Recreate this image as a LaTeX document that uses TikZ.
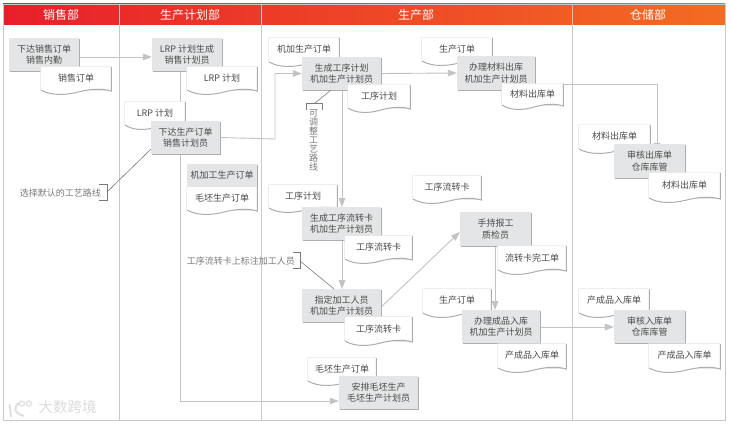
\documentclass[tikz,border=0pt]{standalone}
\usepackage{fontspec}
\setmainfont{Noto Sans CJK SC}
\usetikzlibrary{arrows.meta,shadows,backgrounds,positioning,calc}
\definecolor{txt}{HTML}{4A4A4A}
\definecolor{note}{HTML}{7A7A7A}
\definecolor{lane}{HTML}{C9C9C9}
\definecolor{flow}{HTML}{C2C2C2}
\definecolor{boxfill}{HTML}{E4E5E6}
\definecolor{wm}{HTML}{DCDCDC}
\definecolor{docedge}{HTML}{E6E6E6}
\definecolor{hA}{HTML}{E81F2B}
\definecolor{hB}{HTML}{F36C22}
\tikzset{
  taskbox/.style={rectangle,fill=boxfill,inner sep=0pt,align=center,text=txt,
    font=\fontsize{9}{11.3}\selectfont,
    drop shadow={shadow xshift=1.2pt,shadow yshift=-1.2pt,opacity=1,fill=black!32}},
  doclabel/.style={inner sep=0pt,text=txt,font=\fontsize{9}{11}\selectfont},
  headlabel/.style={inner sep=0pt,text=white,font=\fontsize{12}{14}\selectfont},
  flowline/.style={draw=flow,line width=.9pt,-{Triangle[length=9pt,width=6.5pt,fill=flow]}},
  plainflow/.style={draw=flow,line width=.9pt},
  noteline/.style={draw=note,line width=.6pt},
  notetext/.style={inner sep=0pt,text=note,font=\fontsize{9}{9}\selectfont},
}
% \taskb{name}{x1}{y1}{x2}{y2}{text}
\newcommand{\taskb}[6]{%
  \node[taskbox,minimum width={(#4-#2)*1pt},minimum height={(#5-#3)*1pt}] (#1) at ({(#2+#4)/2},{(#3+#5)/2}) {#6};}
% \docb{name}{x1}{y1}{x2}{y2}{text}
\newcommand{\docb}[6]{%
  \pgfmathsetmacro{\dw}{#4-#2}%
  \fill[docedge] (#2-.6,#3-.6) -- (#4,#3-.6) -- (#4,#5-4) -- (#2-.6,#5-5) -- cycle;
  \fill[white] (#2,#3) -- (#4,#3) -- (#4,#5-4)
     .. controls ({#4-.15*\dw},#5-7) and ({#4-.3*\dw},#5-6) .. ({#2+.5*\dw},#5-2.5)
     .. controls ({#2+.35*\dw},#5) and ({#2+.15*\dw},#5+1) .. (#2,#5-5) -- cycle;
  \draw[line width=1pt,black!32] (#4+.3,#3) -- (#4+.3,#5-4)
     .. controls ({#4-.15*\dw},#5-7) and ({#4-.3*\dw},#5-6) .. ({#2+.5*\dw},#5-2.5)
     .. controls ({#2+.35*\dw},#5) and ({#2+.15*\dw},#5+1) .. (#2,#5-5);
  \node[doclabel] (#1) at ({(#2+#4)/2},{#3+.4*(#5-#3)}) {#6};}
\begin{document}
\begin{tikzpicture}[x=1pt,y=-1pt]
\useasboundingbox (0,0) rectangle (731,425);
\begin{scope}[on background layer]
\fill[white] (0,0) rectangle (731,425);
\end{scope}
% header band
\shade[left color=hA,right color=hB] (3,4) rectangle (725,25);
% lanes
\draw[lane,line width=.9pt] (3,4) rectangle (725,420);
\draw[lane,line width=.9pt] (119.5,4) -- (119.5,420);
\draw[lane,line width=.9pt] (261,4) -- (261,420);
\draw[lane,line width=.9pt] (572,4) -- (572,420);
\node[headlabel] (h1) at (61,15) {销售部};
\node[headlabel] (h2) at (190,15) {生产计划部};
\node[headlabel] (h3) at (416,15) {生产部};
\node[headlabel] (h4) at (648,15) {仓储部};
% watermark
\node[inner sep=0pt,text=wm,font=\fontsize{14.5}{16}\selectfont] (wmark) at (67.5,406.5) {大数跨境};
\draw[wm,line width=1.8pt] (9.5,404) -- (11,417);
\draw[wm,line width=1.8pt] (19,403) .. controls (13,408) and (14,413) .. (24,416);
\draw[wm,line width=1pt] (22,403.5) circle (2.6);
\draw[wm,line width=1pt] (29,403.5) circle (2.6);
% documents lying behind the boxes
\docb{dJiagong}{269}{38}{339}{67}{机加生产订单}
\docb{dShengchanA}{422}{38}{492}{66}{生产订单}
\docb{dLrpB}{125}{102}{185}{130}{LRP 计划}
\docb{dLiaoA}{579}{125}{650}{154}{材料出库单}
\docb{dGongxuB}{269}{185}{337}{213}{工序计划}
\docb{dMaopiA}{308}{358}{376}{386}{毛坯生产订单}
\docb{dShengchanB}{423}{289}{491}{318}{生产订单}
\docb{dChengA}{579}{289}{649}{318}{产成品入库单}
% boxes
\taskb{xiaoshou}{9}{38}{79}{71}{下达销售订单\\销售内勤}
\taskb{lrp}{152}{38}{222}{71}{LRP 计划生成\\销售计划员}
\taskb{xiada}{151}{121}{220}{154}{下达生产订单\\销售计划员}
\taskb{jiagong}{187}{164}{257}{187}{机加工生产订单}
\taskb{gongxu}{302}{57}{381}{90}{生成工序计划\\机加生产计划员}
\taskb{banliao}{457}{56}{535}{90}{办理材料出库\\机加生产计划员}
\taskb{shenliao}{614}{144}{685}{178}{审核出库单\\仓库库管}
\taskb{liuzhuan}{302}{207}{381}{240}{生成工序流转卡\\机加生产计划员}
\taskb{zhiding}{302}{289}{381}{322}{指定加工人员\\机加生产计划员}
\taskb{baogong}{460}{212}{531}{246}{手持报工\\质检员}
\taskb{bancheng}{462}{310}{540}{343}{办理成品入库\\机加生产计划员}
\taskb{shencheng}{614}{310}{685}{343}{审核入库单\\仓库库管}
\taskb{anpai}{339}{376}{418}{409}{安排毛坯生产\\毛坯生产计划员}
% documents lying on the boxes
\docb{dXiaoshou}{41}{67}{111}{95}{销售订单}
\docb{dLrpA}{187}{67}{257}{95}{LRP 计划}
\docb{dMaopiB}{187}{187}{257}{215}{毛坯生产订单}
\docb{dGongxuA}{348}{85}{410}{113}{工序计划}
\docb{dLiaoB}{502}{84}{563}{110}{材料出库单}
\docb{dLiaoC}{649}{173}{720}{203}{材料出库单}
\docb{dKaA}{413}{176}{481}{204}{工序流转卡}
\docb{dKaB}{345}{236}{412}{264}{工序流转卡}
\docb{dKaC}{345}{317}{412}{346}{工序流转卡}
\docb{dWangong}{498}{246}{566}{275}{流转卡完工单}
\docb{dChengB}{498}{344}{566}{373}{产成品入库单}
\docb{dChengC}{649}{344}{720}{373}{产成品入库单}
% notes
\node[notetext,anchor=east] (nMoren) at (101,193) {选择默认的工艺路线};
\node[notetext,anchor=east] (nBiaozhu) at (295,261) {工序流转卡上标注加工人员};
\node[notetext,align=center,anchor=north] (nTiaozheng) at (313.5,109.5) {可\\调\\整\\工\\艺\\路\\线};
\coordinate (bMoren) at (107,192);
\coordinate (bBiaozhu) at (300,261);
\coordinate (bTiaozheng) at (315,103);
\coordinate (turnA) at (275,139);
\coordinate (turnB) at (657,84);
% connectors, under everything else
\begin{scope}[on background layer]
\draw[flowline] ([yshift=-2.5pt]xiaoshou.east) -- ([yshift=-2.5pt]lrp.west);
\draw[plainflow] (lrp.south -| 180,0) -- (xiada.north -| 180,0);
\draw[flowline] (xiada.south -| 180,0) -- (180,401) -- (anpai.south west |- 0,401);
\draw[flowline] (xiada.east) -- (turnA) -- (gongxu.west -| turnA) -- (gongxu.west);
\draw[flowline] (gongxu.east) -- (banliao.west);
\draw[flowline] (banliao.east |- 0,84) -- (turnB) -- (657,152);
\draw[flowline] (342,90) -- (342,207);
\draw[flowline] (342,240) -- (342,289);
\draw[flowline] ([yshift=-1.5pt]zhiding.east) -- ([yshift=-3pt]baogong.west);
\draw[flowline] (495,246) -- (495,310);
\draw[flowline] ([yshift=-.5pt]bancheng.east) -- ([yshift=-.5pt]shencheng.west);
\end{scope}
\draw[noteline] (99,184) -- (107,184) -- (107,200) -- (99,200);
\draw[noteline] (bMoren) -- ([yshift=5pt]xiada.south west);
\draw[noteline] (293,252) -- (300,252) -- (300,268) -- (293,268);
\draw[noteline] (bBiaozhu) -- ([xshift=32pt]zhiding.north west);
\draw[noteline] (306,110) -- (306,103) -- (322,103) -- (322,110);
\draw[noteline] (bTiaozheng) -- ([xshift=29pt]gongxu.south west);
\end{tikzpicture}
\end{document}
